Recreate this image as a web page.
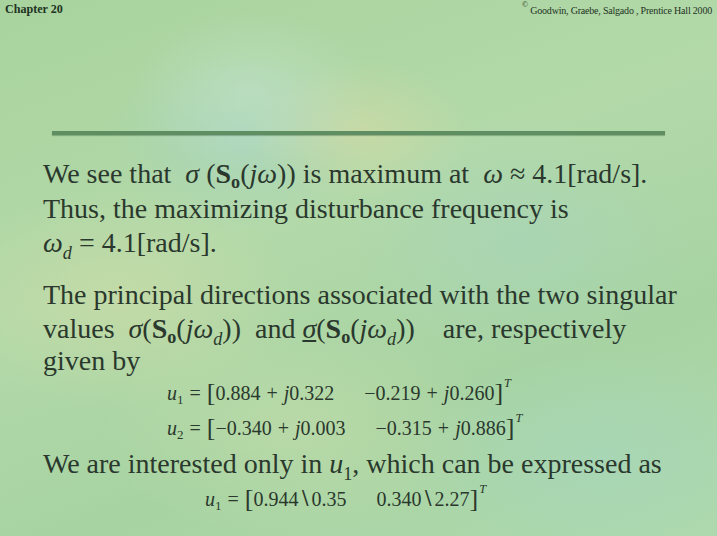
<!DOCTYPE html>
<html>
<head>
<meta charset="utf-8">
<script src="https://cdn.jsdelivr.net/npm/chart.js@4"></script>
<style>
  html, body { margin: 0; padding: 0; }
  body {
    width: 717px; height: 536px; overflow: hidden; position: relative;
    background:
      radial-gradient(ellipse 120px 80px at 250px 90px, rgba(200,228,210,0.45), rgba(200,228,210,0) 100%),
      radial-gradient(ellipse 110px 70px at 360px 130px, rgba(225,220,165,0.45), rgba(225,220,165,0) 100%),
      radial-gradient(ellipse 130px 90px at 240px 140px, rgba(165,212,205,0.5), rgba(165,212,205,0) 100%),
      radial-gradient(ellipse 180px 120px at 520px 240px, rgba(165,212,195,0.45), rgba(165,212,195,0) 100%),
      radial-gradient(ellipse 180px 110px at 120px 300px, rgba(220,222,165,0.4), rgba(220,222,165,0) 100%),
      radial-gradient(ellipse 200px 120px at 600px 460px, rgba(165,215,195,0.5), rgba(165,215,195,0) 100%),
      radial-gradient(ellipse 200px 110px at 300px 430px, rgba(210,226,175,0.4), rgba(210,226,175,0) 100%),
      linear-gradient(160deg, #a8d39e 0%, #b3d9a9 40%, #a7d3a2 70%, #afd9ac 100%);
    font-family: "Liberation Serif", "Times New Roman", serif;
    color: #2a382d;
  }
  .hdr-l { position: absolute; left: 5px; top: 1px; font: bold 13px "Liberation Serif", serif; color: #1f3324; transform: scaleX(0.93); transform-origin: left; }
  .hdr-r { position: absolute; right: 5px; top: 3px; font: 10px "Liberation Serif", serif; color: #1f3324; letter-spacing: -0.2px; }
  .hdr-r sup { font-size: 8px; position: relative; top: -3px; }
  .rule { position: absolute; left: 52px; width: 613px; top: 131px; height: 4px; background: #5e8e62; box-shadow: 0 1px 1px rgba(40,80,45,0.35); }
  .ln { position: absolute; left: 43px; font-size: 28px; line-height: 28px; white-space: nowrap; }
  .eq { position: absolute; line-height: 18px; white-space: nowrap; font-family: "Liberation Serif", serif; font-size: 20px; }
  .br { font-size: 26px; position: relative; top: 1px; font-weight: 100; }
  .gap { display: inline-block; width: 30px; }
  .op { margin: 0 1px; }
  .sub { font-size: 65%; position: relative; top: 7px; }
  .supT { font-size: 62%; position: relative; top: -13px; font-style: italic; margin-left: 1px; }
  .bold { font-weight: bold; }
</style>
</head>
<body>
<div class="hdr-l">Chapter 20</div>
<div class="hdr-r"><sup>©</sup> Goodwin, Graebe, Salgado , Prentice Hall 2000</div>
<div class="rule"></div>

<div class="ln" id="l1" style="top:160px"></div>
<div class="ln" style="top:195px">Thus, the maximizing disturbance frequency is</div>
<div class="ln" id="l3" style="top:229px"></div>

<div class="ln" style="top:281px">The principal directions associated with the two singular</div>
<div class="ln" style="top:315px">values &nbsp;<i>σ</i>(<span class="bold">S<span class="sub" style="top:5px">o</span></span>(<i>jω<span class="sub">d</span></i>)) &nbsp;and <u><i>σ</i></u>(<span class="bold">S<span class="sub" style="top:5px">o</span></span>(<i>jω<span class="sub">d</span></i>)) &nbsp;&nbsp; are, respectively</div>
<div class="ln" style="top:347px">given by</div>

<div class="eq" id="e1" style="left:167px; top:383px"></div>
<div class="eq" id="e2" style="left:167px; top:418px"></div>

<div class="ln" id="l4" style="top:450px"></div>
<div class="eq" id="e3" style="left:205px; top:489px"></div>

<script>
// values
const omegaMax = 4.1;
const u1Re = [0.884, -0.219];
const u1Im = [0.322, 0.260];
const u2Re = [-0.340, -0.315];
const u2Im = [0.003, 0.886];
const u1Mag = [0.944, 0.340];
const u1Ang = [0.35, 2.27];

const fmt = (v, d) => (v < 0 ? '\u2212' : '') + Math.abs(v).toFixed(d);

function cplx(re, im) {
  return fmt(re, 3) + ' <span class="op">+</span> <i>j</i>' + fmt(im, 3);
}
function vec(name, idx, parts) {
  return '<i>' + name + '</i><span class="sub" style="top:4px">' + idx + '</span> <span class="op">=</span> ' +
    '<span class="br">[</span>' + parts.join('<span class="gap"></span>') +
    '<span class="br">]</span><span class="supT">T</span>';
}

document.getElementById('l1').innerHTML =
  'We see that &nbsp;<i>σ</i> (<span class="bold">S<span class="sub" style="top:5px">o</span></span>(<i>jω</i>)) is maximum at &nbsp;<i>ω</i> ≈ ' +
  omegaMax.toFixed(1) + '[rad/s].';
document.getElementById('l3').innerHTML =
  '<i>ω<span class="sub">d</span></i> = ' + omegaMax.toFixed(1) + '[rad/s].';
document.getElementById('l4').innerHTML =
  'We are interested only in <i>u</i><span class="sub">1</span>, which can be expressed as';

document.getElementById('e1').innerHTML =
  vec('u', 1, u1Re.map((r, i) => cplx(r, u1Im[i])));
document.getElementById('e2').innerHTML =
  vec('u', 2, u2Re.map((r, i) => cplx(r, u2Im[i])));
document.getElementById('e3').innerHTML =
  vec('u', 1, u1Mag.map((m, i) => m.toFixed(3) + '\u2216' + u1Ang[i].toFixed(2)));
</script>
</body>
</html>
